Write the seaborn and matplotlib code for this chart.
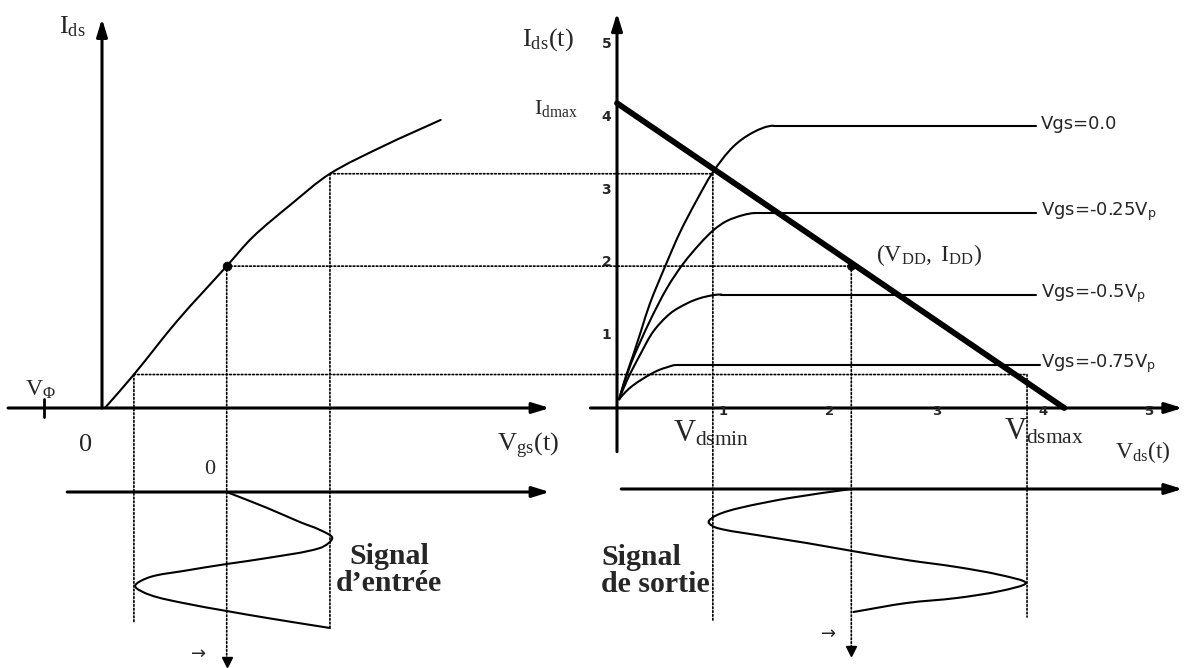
import numpy as np
import pandas as pd
import seaborn as sns
import matplotlib
matplotlib.use("Agg")
import matplotlib.pyplot as plt
from matplotlib.patches import ConnectionPatch, PathPatch
from matplotlib.path import Path

# ---------------------------------------------------------------- data
# transfer characteristic Ids(Vgs)
vgs_curve = [0.05, 0.55, 1.30, 2.15, 2.60, 3.26, 3.93, 4.85, 5.84]
ids_curve = [0.00, 0.46, 1.20, 1.95, 2.35, 2.80, 3.22, 3.60, 3.96]

# output characteristics Ids(Vds), one per gate voltage (rising part up to the knee)
vds_0 = [0.02, 0.08, 0.15, 0.23, 0.31, 0.45, 0.59, 0.75, 0.90, 1.09, 1.28, 1.47]
ids_0 = [0.12, 0.42, 0.72, 1.08, 1.44, 1.94, 2.41, 2.86, 3.24, 3.59, 3.79, 3.88]
vds_25 = [0.02, 0.08, 0.15, 0.31, 0.47, 0.62, 0.78, 0.91, 1.03, 1.18, 1.30]
ids_25 = [0.12, 0.40, 0.68, 1.20, 1.65, 1.98, 2.26, 2.45, 2.57, 2.65, 2.68]
vds_50 = [0.02, 0.10, 0.22, 0.34, 0.50, 0.66, 0.78, 0.90, 0.98]
ids_50 = [0.12, 0.40, 0.74, 1.05, 1.30, 1.44, 1.51, 1.55, 1.56]
vds_75 = [0.02, 0.08, 0.15, 0.23, 0.31, 0.39, 0.47, 0.55]
ids_75 = [0.12, 0.22, 0.31, 0.39, 0.46, 0.52, 0.56, 0.59]
sat_end = [3.93, 3.93, 3.93, 3.97]          # where each saturation line stops
curve_labels = ["Vgs=0.0",
                "Vgs=-0.25V$_\\mathregular{p}$",
                "Vgs=-0.5V$_\\mathregular{p}$",
                "Vgs=-0.75V$_\\mathregular{p}$"]

# load line and operating point
load_vds = [0.0, 4.2]
load_ids = [4.19, 0.0]
q_vgs, q_vds, q_ids = 2.15, 2.2, 1.95
vgs_min, vgs_max = 0.55, 3.93
vds_min, vds_max = 0.90, 3.85
ids_low, ids_high = 0.46, 3.22
v_phi = -1.0

# input signal (time runs downward)
t_in = [0.0, 1.6, 3.0, 3.8, 4.6, 5.6, 6.6, 7.2, 7.9, 8.5,
        9.4, 10.3, 11.1, 11.9, 12.6, 13.6]
vgs_in = [2.15, 2.85, 3.41, 3.76, 3.97, 3.76, 2.85, 2.15, 1.40,
          0.83, 0.57, 0.83, 1.40, 2.15, 2.85, 3.93]

# output signal
t_out = [0.0, 0.9, 1.9, 2.6, 3.3, 3.9, 4.6, 5.4, 6.2, 7.1, 7.8,
         8.6, 9.4, 10.2, 10.9, 11.4, 12.3]
vds_out = [2.20, 1.62, 1.15, 0.94, 0.86, 0.94, 1.31, 1.78, 2.21, 2.72, 3.19,
           3.60, 3.84, 3.60, 3.19, 2.72, 2.22]

x_ticks = [1, 2, 3, 4, 5]
y_ticks = [1, 2, 3, 4, 5]

# ---------------------------------------------------------------- style
sns.set_theme(style="white")
plt.rcParams["font.family"] = ["Liberation Serif", "DejaVu Serif"]
plt.rcParams["mathtext.fontset"] = "custom"
plt.rcParams["mathtext.rm"] = "Liberation Serif"
plt.rcParams["mathtext.it"] = "Liberation Serif:italic"
plt.rcParams["mathtext.bf"] = "Liberation Serif:bold"

W, H = 1184, 668
fig = plt.figure(figsize=(W / 100, H / 100), dpi=100, facecolor="white")


def place(ax, x0, y0, sx, sy, xlim, ylim):
    """Position an axes so data origin lands at pixel (x0, y0), sx/sy px per unit."""
    left = x0 + sx * xlim[0]
    right = x0 + sx * xlim[1]
    p1 = y0 - sy * ylim[0]
    p2 = y0 - sy * ylim[1]
    top, bottom = min(p1, p2), max(p1, p2)
    ax.set_position([left / W, 1 - bottom / H, (right - left) / W, (bottom - top) / H])
    ax.set_xlim(xlim)
    if sy > 0:
        ax.set_ylim(ylim)
    else:
        ax.set_ylim(ylim[1], ylim[0])
    ax.axis("off")
    ax.patch.set_visible(False)


SX_IN, SX_OUT, SY, ST = 58.0, 106.5, 72.75, 10.0
ax_in = fig.add_axes([0, 0, 1, 1])
ax_r = fig.add_axes([0, 0, 1, 1])
ax_inb = fig.add_axes([0, 0, 1, 1])
ax_outb = fig.add_axes([0, 0, 1, 1])
place(ax_in, 102, 408, SX_IN, SY, (-1.7, 7.9), (-0.7, 5.5))
place(ax_r, 617, 408, SX_OUT, SY, (-0.6, 5.5), (-0.7, 5.5))
place(ax_inb, 102, 492, SX_IN, -ST, (-1.7, 7.9), (-3.0, 17.5))
place(ax_outb, 617, 489, SX_OUT, -ST, (-0.6, 5.5), (-5.0, 17.5))

AX_LW = 2.2
HEAD = "-|>,head_length=0.65,head_width=0.2"


def axis_arrow(ax, start, tip):
    ax.annotate("", xy=tip, xytext=start,
                arrowprops=dict(arrowstyle=HEAD, color="black", lw=AX_LW,
                                mutation_scale=16, shrinkA=0, shrinkB=0),
                annotation_clip=False)


def smooth(ax, xs, ys, sx, sy, lw=1.5, flat_end=False):
    """Draw a smooth cubic Bezier path through the given points."""
    sx, sy = abs(sx), abs(sy)
    P = np.column_stack([np.asarray(xs, float) * sx, np.asarray(ys, float) * sy])
    n = len(P)
    d = np.linalg.norm(np.diff(P, axis=0), axis=1)
    m = np.zeros_like(P)
    m[0] = (P[1] - P[0]) / d[0]
    m[-1] = (P[-1] - P[-2]) / d[-1]
    for i in range(1, n - 1):
        m[i] = (P[i + 1] - P[i - 1]) / (d[i - 1] + d[i])
    if flat_end:
        # the last point is a knee that runs into a horizontal plateau
        m[-1] = np.array([1.0, 0.0])
    verts = [P[0]]
    codes = [Path.MOVETO]
    for i in range(n - 1):
        verts += [P[i] + m[i] * d[i] / 3, P[i + 1] - m[i + 1] * d[i] / 3, P[i + 1]]
        codes += [Path.CURVE4] * 3
    verts = np.array(verts) / [sx, sy]
    ax.add_patch(PathPatch(Path(verts, codes), fill=False, lw=lw, edgecolor="black",
                           capstyle="round", joinstyle="round", clip_on=False))


def line(ax, x, y, **kw):
    sns.lineplot(x=x, y=y, ax=ax, sort=False, estimator=None, color="black",
                 legend=False, **kw)
    ax.lines[-1].set_clip_on(False)


# ---------------------------------------------------------------- transfer panel
axis_arrow(ax_in, (-1.62, 0), (7.72, 0))
axis_arrow(ax_in, (0, 0), (0, 5.35))
ax_in.plot([v_phi, v_phi], [-0.13, 0.13], color="black", lw=2, clip_on=False)
smooth(ax_in, vgs_curve, ids_curve, SX_IN, SY)
sns.scatterplot(x=[q_vgs], y=[q_ids], ax=ax_in, color="black", s=40,
                edgecolor="black", legend=False, clip_on=False)

ax_in.text(-0.28, 5.24, r"$\mathrm{I_{ds}}$", fontsize=19, ha="right", va="center")
ax_in.text(-1.33, 0.25, r"$\mathrm{V_{\Phi}}$", fontsize=17, ha="left", va="center")
ax_in.text(-0.29, -0.51, "0", fontsize=19, ha="center", va="center")
ax_in.text(7.88, -0.52, r"$\mathrm{V_{gs}(t)}$", fontsize=19, ha="right", va="center")

# ---------------------------------------------------------------- output panel
axis_arrow(ax_r, (-0.25, 0), (5.31, 0))
axis_arrow(ax_r, (0, -0.6), (0, 5.43))
for xs, ys, xe, lab in zip([vds_0, vds_25, vds_50, vds_75],
                           [ids_0, ids_25, ids_50, ids_75],
                           sat_end, curve_labels):
    smooth(ax_r, xs, ys, SX_OUT, SY, flat_end=True)
    line(ax_r, [xs[-1], xe], [ys[-1], ys[-1]], lw=1.5)
    ax_r.text(3.98, ys[-1] + 0.02, lab, fontsize=13, family="DejaVu Sans",
              ha="left", va="center")
line(ax_r, load_vds, load_ids, lw=4.2)
sns.scatterplot(x=[q_vds], y=[q_ids], ax=ax_r, color="black", s=32,
                edgecolor="black", legend=False, clip_on=False)

for v in x_ticks:
    ax_r.text(v, -0.05, str(v), fontsize=9.5, family="DejaVu Sans",
              weight="bold", ha="center", va="center")
for v in y_ticks:
    ax_r.text(-0.1, v, str(v), fontsize=10, family="DejaVu Sans",
              weight="bold", ha="center", va="center")

ax_r.text(-0.65, 5.06, r"$\mathrm{I_{ds}(t)}$", fontsize=19, ha="center", va="center")
ax_r.text(-0.57, 4.11, r"$\mathrm{I_{dmax}}$", fontsize=16, ha="center", va="center")
ax_r.text(0.53, -0.36, r"$\mathrm{V_{dsmin}}$", fontsize=22, ha="left", va="center")
ax_r.text(3.63, -0.33, r"$\mathrm{V_{dsmax}}$", fontsize=22, ha="left", va="center")
ax_r.text(2.43, 2.10, r"$\mathrm{(V_{DD},\ I_{DD})}$", fontsize=17, ha="left", va="center")

# ---------------------------------------------------------------- input signal
axis_arrow(ax_inb, (-0.6, 0), (7.72, 0))
smooth(ax_inb, vgs_in, t_in, SX_IN, ST)
ax_inb.text(1.86, -2.2, "0", fontsize=16, ha="center", va="center")
ax_inb.text(4.95, 7.8, "Signal\nd\u2019entrée", fontsize=21.5, weight="bold",
            ha="center", va="center", multialignment="center", linespacing=1.0)
ax_inb.text(1.67, 16.2, "\u2192", fontsize=13, family="DejaVu Sans",
            ha="center", va="center")
ax_inb.plot([q_vgs], [17.0], "v", color="black", ms=7, clip_on=False)

# ---------------------------------------------------------------- output signal
axis_arrow(ax_outb, (0.04, 0), (5.31, 0))
smooth(ax_outb, vds_out, t_out, SX_OUT, ST)
ax_outb.text(5.20, -3.7, r"$\mathrm{V_{ds}(t)}$", fontsize=17, ha="right", va="center")
ax_outb.text(-0.15, 8.2, "Signal\nde sortie", fontsize=21.5, weight="bold",
             ha="left", va="center", linespacing=1.0)
ax_outb.text(1.99, 14.5, "\u2192", fontsize=13, family="DejaVu Sans",
             ha="center", va="center")
ax_outb.plot([q_vds], [16.2], "v", color="black", ms=7, clip_on=False)

# ---------------------------------------------------------------- projection lines
DOT = dict(linestyle=(0, (1, 1.3)), lw=1.2, color="black")


def connect(pa, axa, pb, axb):
    fig.add_artist(ConnectionPatch(xyA=pa, coordsA=axa.transData,
                                   xyB=pb, coordsB=axb.transData, **DOT))


# horizontal: transfer curve -> output plane
connect((vgs_min, ids_low), ax_in, (vds_max, ids_low), ax_r)
connect((q_vgs, q_ids), ax_in, (q_vds, q_ids), ax_r)
connect((vgs_max, ids_high), ax_in, (vds_min, ids_high), ax_r)

# vertical: down to the signals
connect((vgs_min, ids_low), ax_in, (vgs_min, 13.1), ax_inb)
connect((q_vgs, q_ids), ax_in, (q_vgs, 16.6), ax_inb)
connect((vgs_max, ids_high), ax_in, (vgs_max, 13.5), ax_inb)
connect((vds_min, ids_high), ax_r, (vds_min, 13.1), ax_outb)
connect((q_vds, q_ids), ax_r, (q_vds, 15.8), ax_outb)
connect((vds_max, ids_low), ax_r, (vds_max, 12.8), ax_outb)

fig.savefig("out.png", dpi=100, facecolor="white")
